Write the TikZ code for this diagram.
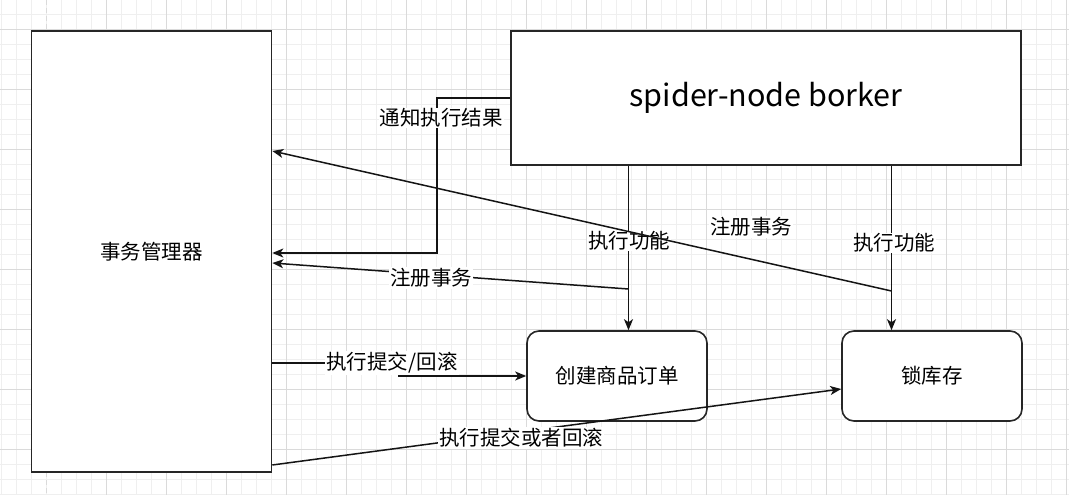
\documentclass[tikz,border=0pt]{standalone}
\usepackage{fontspec}
\setmainfont{Noto Sans CJK SC}
\usetikzlibrary{arrows.meta}
\definecolor{gridminor}{HTML}{EFEFEF}
\definecolor{gridmajor}{HTML}{DADADA}
\definecolor{edgecol}{HTML}{141414}
\begin{document}
\begin{tikzpicture}[x=1pt,y=-1pt,
  box/.style={draw=black!85, line width=1.6pt, fill=white, inner sep=0pt, font=\fontsize{20.5}{24}\selectfont},
  rbox/.style={box, rounded corners=12pt},
  arr/.style={draw=edgecol, line width=1.5pt, -{Stealth[length=11pt,width=9pt,inset=3pt]}},
  lbl/.style={fill=white, inner sep=1pt, font=\fontsize{20.5}{24}\selectfont},
  gmin/.style={draw=gridminor, line width=1pt},
  gmaj/.style={draw=gridmajor, line width=1pt},
]
\useasboundingbox (0,0) rectangle (1069,495);
\fill[white] (0,0) rectangle (1069,495);
\foreach \i in {0,...,71} \draw[gmin] ({1.7+15*\i},0) -- ({1.7+15*\i},495);
\foreach \i in {0,...,32} \draw[gmin] (0,{14.3+15*\i}) -- (1069,{14.3+15*\i});
\foreach \i in {1,...,17} \draw[gmaj] ({46.7+60*\i},0) -- ({46.7+60*\i},495);
\foreach \i in {0,...,7} \draw[gmaj] (0,{29.3+60*\i}) -- (1069,{29.3+60*\i});
\draw[gmaj, dashed, dash pattern=on 5pt off 3pt] (46.7,0) -- (46.7,495);

% boxes
\node[box, minimum width=240pt, minimum height=441pt] (tm) at (151.5,251.5) {事务管理器};
\node[box, minimum width=510pt, minimum height=134pt, font=\fontsize{30.5}{36}\selectfont] (sp) at (766,98) {spider-node borker};
\node[rbox, minimum width=180pt, minimum height=90pt] (co) at (617,376) {创建商品订单};
\node[rbox, minimum width=180pt, minimum height=90pt] (st) at (932,376) {锁库存};

% coordinates
\coordinate (n1) at (437,253);
\coordinate (c1) at (628.5,0);
\coordinate (c2) at (891.5,0);
\coordinate (r1) at (628.5,289);
\coordinate (r1t) at (0,263);
\coordinate (r2) at (891.5,291);
\coordinate (r2t) at (0,151);
\coordinate (k1) at (399,363);
\coordinate (m1) at (0,465);
\coordinate (m2) at (0,389);

% notify result
\draw[arr] (sp.west) -| (n1) -- (tm.east |- n1);
\node[lbl] (l1) at (441,118) {通知执行结果};

% execute functions
\draw[arr] (sp.south -| c1) -- (co.north -| c1);
\node[lbl] (l2) at (629,241) {执行功能};
\draw[arr] (sp.south -| c2) -- (st.north -| c2);
\node[lbl] (l3) at (894,243) {执行功能};

% register transaction (lower)
\draw[arr] (r1) -- (tm.east |- r1t);
\node[lbl] (l4) at (431,278) {注册事务};

% register transaction (upper)
\draw[arr] (r2) -- (tm.east |- r2t);
\node[lbl] (l5) at (751,227) {注册事务};

% commit / rollback
\draw[arr] (tm.east |- k1) -- (k1) |- (co.west);
\node[lbl] (l6) at (392,363) {执行提交/回滚};

\draw[arr] (tm.east |- m1) -- (st.west |- m2);
\node[lbl] (l7) at (521,438) {执行提交或者回滚};
\end{tikzpicture}
\end{document}
